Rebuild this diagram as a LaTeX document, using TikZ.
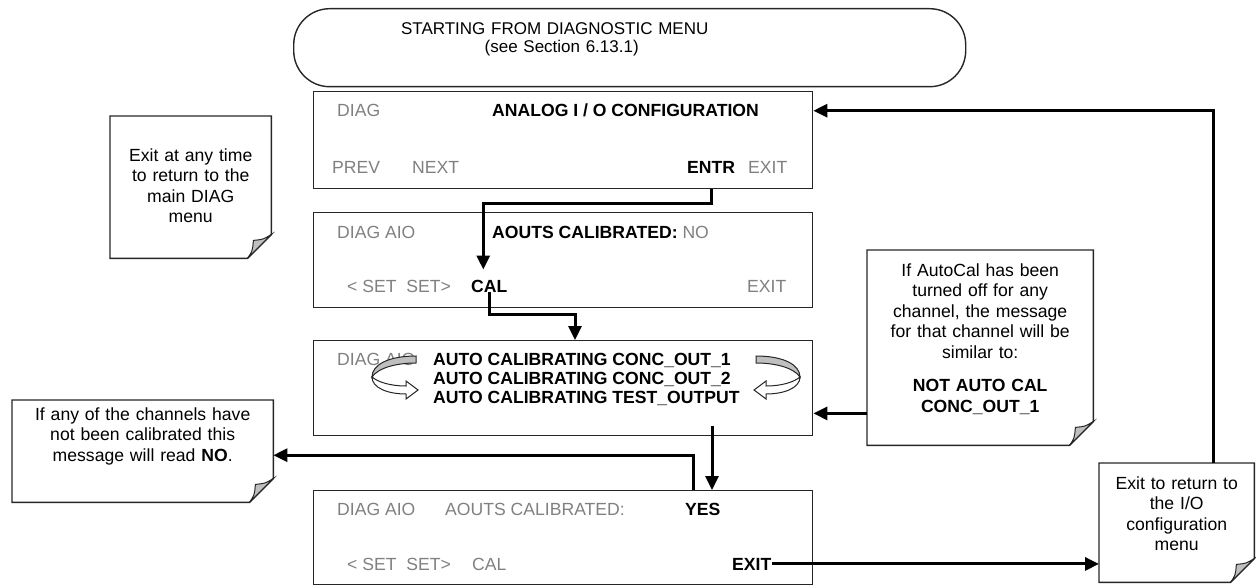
\documentclass[tikz,border=0pt]{standalone}
\usepackage{fontspec}
\setmainfont{Liberation Sans}
\usepackage{tikz}
\usetikzlibrary{arrows.meta,positioning,calc}
\newcommand{\lcd}{\fontsize{17.6}{19}\selectfont}
\newcommand{\dogear}[1]{%
	\draw[notebox] (#1.north west) -- (#1.north east) -- ($(#1.south east)+(0,-24)$) -- ($(#1.south east)+(-24,0)$) -- (#1.south west) -- cycle;
	\filldraw[flap] ($(#1.south east)+(-24,0)$) .. controls ($(#1.south east)+(-19,-7)$) .. ($(#1.south east)+(-18,-18)$) .. controls ($(#1.south east)+(-8,-19)$) .. ($(#1.south east)+(0,-24)$) -- cycle;
}
\newcommand{\twistarrow}{%
	\filldraw[twist, fill=black!25] (416,356) .. controls (388,356) and (372,365) .. (372,377) .. controls (378,368) and (396,363) .. (416,363) -- cycle;
	\filldraw[twist, fill=white] (372,377) .. controls (372,388) and (388,394) .. (406,394) -- (406,399) -- (418,390) -- (406,381) -- (406,386) .. controls (390,386) and (378,382) .. (372,377) -- cycle;
}
\tikzset{
	terminal/.style={draw=black!85, line width=1.4pt, rounded corners=36pt, align=center, anchor=north west, inner sep=0pt, font=\fontsize{17}{17.7}\selectfont},
	screen/.style={draw=black!85, line width=1.4pt, anchor=north west, minimum width=499pt},
	dim/.style={anchor=base west, inner sep=0pt, text=black!50, font=\lcd},
	key/.style={anchor=base west, inner sep=0pt, font=\lcd\bfseries},
	memo/.style={anchor=north west, align=center, inner sep=0pt, font=\fontsize{17.6}{20.5}\selectfont},
	notebox/.style={draw=black!85, line width=1.4pt},
	flap/.style={fill=black!25, draw=black!85, line width=1pt},
	twist/.style={draw=black!85, line width=1pt},
	flow/.style={-{Triangle[length=14pt,width=13pt]}, line width=3pt}
}

\begin{document}
\begin{tikzpicture}[x=1pt, y=-1pt]
	\useasboundingbox (0,0) rectangle (1256,586);
	\node[terminal, text width=672pt, text height=26pt, text depth=52pt] (start) at (293,8) {\hspace*{-150pt}STARTING FROM DIAGNOSTIC MENU\\\hspace*{-136pt}(see Section 6.13.1)};

	\node[screen, minimum height=97pt] (anamenu) at (313,91) {};
	\node[screen, minimum height=95pt] (aoutsno) at (313,212) {};
	\node[screen, minimum height=95pt] (autocal) at (313,340) {};
	\node[screen, minimum height=94pt] (aoutsyes) at (313,490) {};

	\node[dim] (diag1) at (337,117) {DIAG};
	\node[key] (analog) at (492,117) {ANALOG I / O CONFIGURATION};
	\node[dim] (prev1) at (332,173) {PREV};
	\node[dim] (next1) at (412,173) {NEXT};
	\node[key] (entr1) at (687,173) {ENTR};
	\node[dim] (exit1) at (748,173) {EXIT};

	\node[dim] (diag2) at (337,238) {DIAG AIO};
	\node[key] (aouts2) at (492,238) {AOUTS CALIBRATED: \textcolor{black!50}{\mdseries NO}};
	\node[dim] (set2) at (347,292) {< SET\ \ SET>};
	\node[key] (cal2) at (471,292) {CAL};
	\node[dim] (exit2) at (747,292) {EXIT};

	\node[dim] (diag3) at (337,365) {DIAG AIO};
	\node[key, align=left] (autolines) at (433,403) {AUTO CALIBRATING CONC\_OUT\_1\\AUTO CALIBRATING CONC\_OUT\_2\\AUTO CALIBRATING TEST\_OUTPUT};
	\twistarrow
	\begin{scope}[shift={(1172,0)}, xscale=-1]
		\twistarrow
	\end{scope}

	\node[dim] (diag4) at (337,515) {DIAG AIO};
	\node[dim] (aouts4) at (445,515) {AOUTS CALIBRATED:};
	\node[key] (yes4) at (685,515) {YES};
	\node[dim] (set4) at (347,570) {< SET\ \ SET>};
	\node[dim] (cal4) at (472,570) {CAL};
	\node[key] (exit4) at (732,570) {EXIT};

	\node[memo, text width=161pt, text height=45pt, text depth=97pt] (anytime) at (110,116) {Exit at any time\\to return to the\\main DIAG\\menu};
	\node[memo, text width=261pt, text height=20pt, text depth=82pt] (nocal) at (12,400) {If any of the channels have\\not been calibrated this\\message will read \textbf{NO}.};
	\node[memo, text width=226pt, text height=26pt, text depth=169pt] (notauto) at (867,250) {If AutoCal has been\\turned off for any\\channel, the message\\for that channel will be\\similar to:\\[13pt]\textbf{NOT AUTO CAL}\\\textbf{CONC\_OUT\_1}};
	\node[memo, text width=155pt, text height=26pt, text depth=93pt] (ioback) at (1099,463) {Exit to return to\\the I/O\\configuration\\menu};
	\dogear{anytime}
	\dogear{nocal}
	\dogear{notauto}
	\dogear{ioback}

	\draw[flow] (entr1.south |- anamenu.south) -- ++(0,14) -| ([xshift=-6pt, yshift=10pt]cal2.north);
	\draw[flow] (cal2.south) -- ++(0,22) -| ($(autocal.north west)+(262,0)$);
	\draw[flow] ($(autocal.south west)+(399,-10)$) -- ($(aoutsyes.north west)+(399,0)$);
	\draw[flow] ($(aoutsyes.north west)+(380,0)$) |- ($(nocal.east)+(0,4)$);
	\draw[flow] ($(notauto.south west)+(0,-32)$) coordinate (nafrom) -- (nafrom -| autocal.east);
	\draw[flow] (exit4.east) -- (exit4.east -| ioback.west);
	\draw[flow] ($(ioback.north west)+(114,0)$) |- ($(anamenu.east)+(0,-29.5)$);
\end{tikzpicture}
\end{document}
